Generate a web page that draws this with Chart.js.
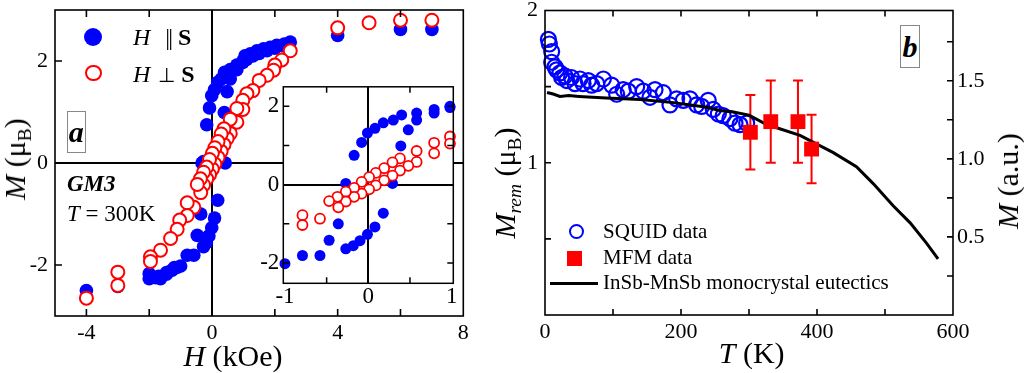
<!DOCTYPE html>
<html>
<head>
<meta charset="utf-8">
<script src="https://cdn.jsdelivr.net/npm/chart.js@4.4.1/dist/chart.umd.min.js"></script>
<style>
  body { margin: 0; background: #fff; }
  #wrap { position: relative; width: 1024px; height: 373px; overflow: hidden; font-family: 'Liberation Serif', 'Times New Roman', serif; color: #000; }
  canvas { position: absolute; }
  .t { position: absolute; white-space: nowrap; line-height: 1; }
  .c { transform: translate(-50%, -50%); }
  .r { transform: translate(-50%, -50%) rotate(-90deg); }
  sub { font-size: 0.65em; vertical-align: -0.3em; line-height: 0; }
  .box { position: absolute; box-sizing: border-box; border: 1px solid #888; text-align: center; font-weight: bold; font-style: italic; background: #fff; }
</style>
</head>
<body>
<div id="wrap">
  <canvas id="cA" width="490" height="373" style="left:0;top:0"></canvas>
  <canvas id="cIn" width="212" height="232" style="left:250px;top:80px"></canvas>
  <canvas id="cB" width="534" height="373" style="left:490px;top:0"></canvas>

  <!-- panel a texts -->
  <div class="t r" style="left:15px;top:159px;font-size:30px"><i>M</i> (μ<sub>B</sub>)</div>
  <div class="t c" style="left:233px;top:356px;font-size:30px"><i>H</i> (kOe)</div>
  <div style="position:absolute;left:84px;top:28px;width:18px;height:18px;border-radius:50%;background:#0000ff"></div>
  <div style="position:absolute;left:85px;top:64.5px;width:16.5px;height:16.5px;box-sizing:border-box;border:2.2px solid #ff0000;border-radius:50%"></div>
  <div class="t" style="left:133px;top:25px;font-size:24px"><i>H</i><span style="margin:0 7px 0 15px;letter-spacing:-2px">||</span><b>S</b></div>
  <div class="t" style="left:133px;top:61.5px;font-size:24px"><i>H</i><span style="margin:0 6px 0 8px;font-size:20px">⊥</span><b>S</b></div>
  <div class="box" style="left:66.7px;top:110.7px;width:19px;height:42.6px;font-size:30px;line-height:40px">a</div>
  <div class="t" style="left:67px;top:172.4px;font-size:23px;font-weight:bold;font-style:italic">GM3</div>
  <div class="t" style="left:67px;top:202.4px;font-size:23px"><i>T</i> = 300K</div>

  <!-- panel b texts -->
  <div class="t r" style="left:505px;top:182.5px;font-size:30px"><i>M<sub>rem</sub></i> (μ<sub>B</sub>)</div>
  <div class="t r" style="left:1008px;top:181px;font-size:30px"><i>M</i> (a.u.)</div>
  <div class="t c" style="left:751.7px;top:353px;font-size:30px"><i>T</i> (K)</div>
  <div class="box" style="left:900px;top:25px;width:20px;height:43px;font-size:30px;line-height:41px">b</div>
  <div style="position:absolute;left:569.2px;top:224.2px;width:15px;height:15px;box-sizing:border-box;border:2.2px solid #0000ff;border-radius:50%"></div>
  <div style="position:absolute;left:566.5px;top:250.8px;width:15px;height:15px;background:#ff0000"></div>
  <div style="position:absolute;left:550px;top:281.8px;width:48px;height:3px;background:#000"></div>
  <div class="t" style="left:603px;top:220.7px;font-size:21px">SQUID data</div>
  <div class="t" style="left:603px;top:247.4px;font-size:21px">MFM data</div>
  <div class="t" style="left:603px;top:272.4px;font-size:21px">InSb-MnSb monocrystal eutectics</div>
</div>

<script>
const FONT = "'Liberation Serif', 'Times New Roman', serif";

// panel a: M(H) loops at 300 K, H in kOe, M in muB
const parH = [7, 6, 4, 2.49, 2.3, 2.06, 1.85, 1.64, 1.43, 1.22, 1.05, 0.98, 0.79, 0.58, 0.4, 0.3, 0.18, 0.08, -0.01, -0.08, -0.17, -0.27, -0.32, -0.36, -0.47, -0.58, -0.79, -1.0, -1.2, -1.45, -1.7, -2.0, -3, -4,
              -2.0, -1.8, -1.64, -1.45, -1.27, -1.12, -0.27, -0.18, -0.1, -0.01, 0.08, 0.18, 0.29, 0.42, 0.39, 0.48, 0.58, 0.79, 0.98, 1.1, 1.3, 1.5, 1.75, 2.0, 2.25];
const parM = [2.62, 2.62, 2.5, 2.37, 2.33, 2.31, 2.27, 2.24, 2.2, 2.14, 2.1, 1.97, 1.83, 1.65, 1.78, 1.65, 1.58, 1.44, 1.32, 1.08, 0.75, 0.03, 0.0, -1.0, -1.42, -1.81, -1.81, -2.02, -2.05, -2.15, -2.22, -2.27, -2.42, -2.5,
              -2.17, -2.25, -2.27, -2.18, -2.1, -2.05, -1.64, -1.56, -1.43, -1.27, -1.08, -0.73, 0.03, 0.0, 0.99, 1.4, 1.83, 1.92, 2.0, 2.03, 2.1, 2.15, 2.2, 2.25, 2.3];
const perpH = [7, 6, 5, 4, 2.49, 2.22, 2.0, 1.96, 1.75, 1.5, 1.3, 1.11,
               0.98, 0.98, 0.79, 0.79, 0.58, 0.58, 0.48, 0.38, 0.38, 0.29, 0.29, 0.19, 0.19, 0.09, 0.09, 0.01, 0.01, -0.08, -0.08, -0.17, -0.17, -0.27, -0.27, -0.36, -0.37, -0.47, -0.58, -0.79, -0.79,
               -1.03, -1.11, -1.32, -1.64, -1.96, -1.96, -3, -3, -4];
const perpM = [2.8, 2.8, 2.75, 2.65, 2.2, 2.02, 1.92, 1.82, 1.72, 1.62, 1.42, 1.36,
               1.23, 1.05, 1.07, 0.8, 0.86, 0.58, 0.48, 0.67, 0.36, 0.57, 0.23, 0.42, 0.11, 0.3, -0.02, 0.19, -0.12, 0.07, -0.23, -0.08, -0.31, -0.18, -0.43, -0.58, -0.31, -0.42, -0.87, -0.78, -1.03,
               -1.12, -1.3, -1.48, -1.71, -1.84, -1.93, -2.14, -2.4, -2.65];

// inset: low-field part of the same loops
const insParH = [0.98, 0.79, 0.58, 0.4, 0.3, 0.18, 0.08, -0.01, -0.08, -0.17, -0.27, -0.36, -0.47, -0.58, -0.79, -1.0, -0.27, -0.18, -0.1, -0.01, 0.08, 0.18, 0.29, 0.39, 0.48, 0.58, 0.79, 0.98];
const insParM = [1.97, 1.83, 1.65, 1.78, 1.65, 1.58, 1.44, 1.32, 1.08, 0.75, 0.03, -1.0, -1.42, -1.81, -1.81, -2.02, -1.64, -1.56, -1.43, -1.27, -1.08, -0.73, 0.03, 0.99, 1.4, 1.83, 1.92, 2.0];
const insPerpH = [0.98, 0.98, 0.79, 0.79, 0.58, 0.58, 0.48, 0.38, 0.38, 0.29, 0.29, 0.19, 0.19, 0.09, 0.09, 0.01, 0.01, -0.08, -0.08, -0.17, -0.17, -0.27, -0.27, -0.36, -0.37, -0.47, -0.58, -0.79, -0.79];
const insPerpM = [1.23, 1.05, 1.07, 0.8, 0.86, 0.58, 0.48, 0.67, 0.36, 0.57, 0.23, 0.42, 0.11, 0.3, -0.02, 0.19, -0.12, 0.07, -0.23, -0.08, -0.31, -0.18, -0.43, -0.58, -0.31, -0.42, -0.87, -0.78, -1.03];

const aTicksX = [-4, 0, 4, 8];
const aTicksY = [-2, 0, 2];
const aMarksX = [-4, -2, 2, 4, 6];
const aMarksY = [-2, 2];
const inTicksX = [-1, 0, 1];
const inTicksY = [-2, 0, 2];
const inMarksX = [-0.5, 0.5];
const inMarksY = [-2, -1, 1, 2];

// panel b: remanent magnetisation vs temperature
const squidT = [5, 6.4, 9.8, 9.8, 14.7, 17, 22, 24.5, 29.4, 32, 39, 44, 51.5, 56, 63.7, 68.6, 76, 85.8, 98, 105.4, 115, 122.5, 134.8, 144.6, 154.4, 161.8, 174, 183.8, 193.6, 203.4, 213.2, 223, 230.4, 240, 247.5, 254.9, 262, 272, 279.4, 286.8, 296.6];
const squidM = [1.81, 1.78, 1.73, 1.66, 1.63, 1.61, 1.59, 1.56, 1.57, 1.54, 1.56, 1.52, 1.55, 1.52, 1.54, 1.51, 1.52, 1.55, 1.51, 1.45, 1.48, 1.47, 1.50, 1.47, 1.43, 1.48, 1.46, 1.38, 1.42, 1.41, 1.42, 1.38, 1.37, 1.41, 1.35, 1.32, 1.31, 1.29, 1.26, 1.25, 1.26];
const mfmT = [302, 332, 372, 392];
const mfmM = [1.20, 1.27, 1.27, 1.09];
const mfmErr = [0.245, 0.27, 0.27, 0.225];
const eutT = [3, 12, 22, 35, 50, 90, 140, 189, 238, 257, 277, 300, 326, 375, 424, 458, 483, 512, 537, 561, 578];
const eutM = [1.425, 1.415, 1.40, 1.405, 1.40, 1.39, 1.38, 1.36, 1.33, 1.31, 1.30, 1.28, 1.22, 1.15, 1.04, 0.95, 0.84, 0.70, 0.59, 0.46, 0.36];

const bTicksX = [0, 200, 400, 600];
const bTicksY = [1, 2];
const bTicksY2 = [0.5, 1.0, 1.5];
const bMarksX = [100, 200, 300, 400, 500];
const bMarksY = [0.5, 1, 1.5];
const bMarksY2 = [0.25, 0.5, 0.75, 1.0, 1.25, 1.5, 1.75];

const pts = (xs, ys) => xs.map((x, i) => ({ x: x, y: ys[i] }));

// frame with inward tick marks, optional white fill of the plot area
const frame = {
  id: 'frame',
  beforeDraw(chart, args, o) {
    if (!o.fill) return;
    const a = chart.chartArea, c = chart.ctx;
    c.save();
    c.fillStyle = o.fill;
    c.fillRect(a.left, a.top, a.width, a.height);
    c.restore();
  },
  afterDatasetsDraw(chart, args, o) {
    const c = chart.ctx, a = chart.chartArea, s = chart.scales;
    const len = o.len || 6;
    c.save();
    c.strokeStyle = '#000';
    c.lineWidth = o.lw || 1.5;
    c.beginPath();
    (o.x || []).forEach(v => {
      const p = s.x.getPixelForValue(v);
      c.moveTo(p, a.bottom); c.lineTo(p, a.bottom - len);
      c.moveTo(p, a.top); c.lineTo(p, a.top + len);
    });
    (o.left || []).forEach(v => {
      const p = s.y.getPixelForValue(v);
      c.moveTo(a.left, p); c.lineTo(a.left + len, p);
    });
    (o.right || []).forEach(v => {
      const p = s[o.rightAxis || 'y'].getPixelForValue(v);
      c.moveTo(a.right, p); c.lineTo(a.right - len, p);
    });
    c.stroke();
    c.strokeRect(a.left, a.top, a.width, a.height);
    c.restore();
  }
};

// vertical error bars for datasets carrying an "errors" array
const errBars = {
  id: 'errBars',
  beforeDatasetsDraw(chart) {
    const c = chart.ctx;
    chart.data.datasets.forEach((ds, i) => {
      if (!ds.errors) return;
      const meta = chart.getDatasetMeta(i);
      const ys = chart.scales[meta.yAxisID];
      c.save();
      c.strokeStyle = ds.borderColor;
      c.lineWidth = 2;
      c.beginPath();
      meta.data.forEach((p, j) => {
        const v = ds.data[j].y, e = ds.errors[j];
        const t = ys.getPixelForValue(v + e), b = ys.getPixelForValue(v - e);
        c.moveTo(p.x, t); c.lineTo(p.x, b);
        c.moveTo(p.x - 5, t); c.lineTo(p.x + 5, t);
        c.moveTo(p.x - 5, b); c.lineTo(p.x + 5, b);
      });
      c.stroke();
      c.restore();
    });
  }
};

function axis(opts) {
  // fixed-size linear axis with explicit tick values, no built-in grid
  return {
    type: 'linear',
    min: opts.min,
    max: opts.max,
    position: opts.position,
    afterBuildTicks: s => { s.ticks = opts.ticks.map(v => ({ value: v })); },
    afterFit: s => {
      if (opts.width) s.width = opts.width;
      if (opts.height) s.height = opts.height;
      s.paddingLeft = s.paddingRight = s.paddingTop = s.paddingBottom = 0;
    },
    border: { display: false },
    grid: {
      drawTicks: false,
      lineWidth: 2,
      color: ctx => (opts.zero && ctx.tick && ctx.tick.value === 0) ? '#000' : 'rgba(0,0,0,0)'
    },
    ticks: {
      color: '#000',
      font: { family: FONT, size: opts.size || 22 },
      padding: opts.pad,
      autoSkip: false,
      maxRotation: 0,
      callback: opts.fmt || (v => String(v))
    }
  };
}

const common = {
  responsive: false,
  animation: false,
  devicePixelRatio: 1,
  events: [],
};

new Chart(document.getElementById('cA'), {
  type: 'scatter',
  data: {
    datasets: [
      { data: pts(perpH, perpM), pointRadius: 6.5, borderWidth: 2, borderColor: '#ff0000', backgroundColor: '#fff', clip: false },
      { data: pts(parH, parM), pointRadius: 6.8, borderWidth: 0, borderColor: '#0000ff', backgroundColor: '#0000ff', clip: false }
    ]
  },
  options: Object.assign({}, common, {
    layout: { padding: { top: 10, right: 26.7, left: 0, bottom: 0 } },
    scales: {
      x: axis({ min: -5, max: 8, ticks: aTicksX, height: 57, pad: 4, zero: true }),
      y: axis({ min: -3, max: 3, ticks: aTicksY, width: 55, pad: 7, zero: true })
    },
    plugins: {
      legend: { display: false }, tooltip: { enabled: false },
      frame: { x: aMarksX, left: aMarksY, len: 7, lw: 1.6 }
    }
  }),
  plugins: [frame]
});

new Chart(document.getElementById('cIn'), {
  type: 'scatter',
  data: {
    datasets: [
      { data: pts(insPerpH, insPerpM), pointRadius: 5, borderWidth: 1.8, borderColor: '#ff0000', backgroundColor: '#fff', clip: false },
      { data: pts(insParH, insParM), pointRadius: 5.5, borderWidth: 0, borderColor: '#0000ff', backgroundColor: '#0000ff', clip: false }
    ]
  },
  options: Object.assign({}, common, {
    layout: { padding: { top: 2.7, right: 8.7, left: 0, bottom: 0 } },
    scales: {
      x: axis({ min: -1.02, max: 1.02, ticks: inTicksX, height: 28.7, pad: 0, zero: true, size: 23 }),
      y: axis({ min: -2.52, max: 2.5, ticks: inTicksY, width: 33.3, pad: 4, zero: true, size: 23 })
    },
    plugins: {
      legend: { display: false }, tooltip: { enabled: false },
      frame: { x: inMarksX, left: inMarksY, right: inMarksY, len: 6, lw: 1.5, fill: '#fff' }
    }
  }),
  plugins: [frame]
});

new Chart(document.getElementById('cB'), {
  type: 'scatter',
  data: {
    datasets: [
      { data: pts(mfmT, mfmM), errors: mfmErr, pointStyle: 'rect', pointRadius: 10.5, borderWidth: 0, borderColor: '#ff0000', backgroundColor: '#ff0000', clip: false },
      { data: pts(eutT, eutM), yAxisID: 'y2', showLine: true, pointRadius: 0, borderWidth: 3, borderColor: '#000', backgroundColor: '#000', tension: 0, clip: false },
      { data: pts(squidT, squidM), pointRadius: 7.5, borderWidth: 2.2, borderColor: '#0000ff', backgroundColor: 'rgba(0,0,0,0)', clip: false }
    ]
  },
  options: Object.assign({}, common, {
    layout: { padding: { top: 9, right: 0, left: 0, bottom: 0 } },
    scales: {
      x: axis({ min: 0, max: 600, ticks: bTicksX, height: 58, pad: 4 }),
      y: axis({ min: 0, max: 2, ticks: bTicksY, width: 55, pad: 7, position: 'left' }),
      y2: axis({ min: 0, max: 1.95, ticks: bTicksY2, width: 71, pad: 4, position: 'right', fmt: v => v.toFixed(1) })
    },
    plugins: {
      legend: { display: false }, tooltip: { enabled: false },
      frame: { x: bMarksX, left: bMarksY, right: bMarksY2, rightAxis: 'y2', len: 6, lw: 1.6 }
    }
  }),
  plugins: [frame, errBars]
});
</script>
</body>
</html>
